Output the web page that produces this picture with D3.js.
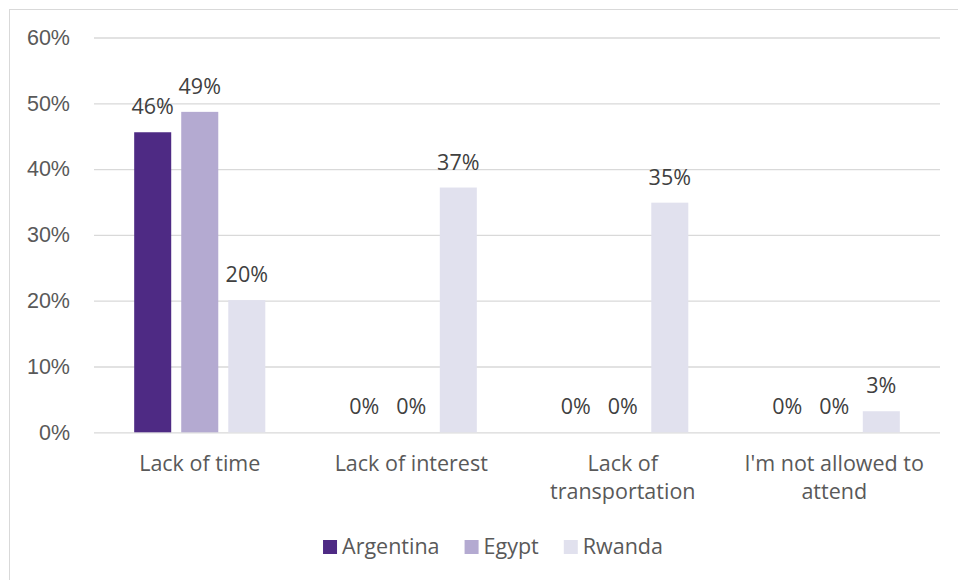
<!DOCTYPE html>
<html>
<head>
<meta charset="utf-8">
<script src="https://cdn.jsdelivr.net/npm/d3@7"></script>
<style>
  html, body { margin: 0; padding: 0; background: #fff; }
  svg { display: block; font-family: "Open Sans", "Liberation Sans", sans-serif; }
</style>
</head>
<body>
<svg id="chart" width="958" height="580"></svg>
<script>
// Reasons for not attending, share of respondents per country
const categories = [
  ["Lack of time"],
  ["Lack of interest"],
  ["Lack of", "transportation"],
  ["I'm not allowed to", "attend"]
];
const seriesNames = ["Argentina", "Egypt", "Rwanda"];
const argentina = [0.456, 0, 0, 0];
const egypt     = [0.487, 0, 0, 0];
const rwanda    = [0.201, 0.372, 0.349, 0.032];
const yTicks = [0, 0.1, 0.2, 0.3, 0.4, 0.5, 0.6];
const colors = ["#4e2a84", "#b4aad1", "#e1e1ee"];

const series = [argentina, egypt, rwanda];

const svg = d3.select("#chart");
const plot = { left: 94, right: 940, top: 37.5, bottom: 432.3 };
const fontSize = 21.5;

// outer frame
svg.append("rect")
  .attr("x", 9.5).attr("y", 9.5)
  .attr("width", 990).attr("height", 600)
  .attr("fill", "none").attr("stroke", "#d9d9d9").attr("stroke-width", 1);

const y = d3.scaleLinear().domain([0, 0.6]).range([plot.bottom, plot.top]);
const x0 = d3.scaleBand()
  .domain(d3.range(categories.length))
  .range([plot.left, plot.right])
  .paddingInner(0.38).paddingOuter(0.19);
const x1 = d3.scaleBand()
  .domain(d3.range(series.length))
  .range([0, x0.bandwidth()])
  .paddingInner(0.213);

const pct = d3.format(".0%");

// gridlines and y tick labels
const yAxis = d3.axisLeft(y).tickValues(yTicks).tickFormat(pct)
  .tickSize(-(plot.right - plot.left)).tickPadding(24);
const gy = svg.append("g")
  .attr("transform", `translate(${plot.left},0)`)
  .call(yAxis);
gy.select(".domain").remove();
gy.selectAll(".tick line").attr("stroke", "#d9d9d9").attr("stroke-width", 1.3);
gy.selectAll(".tick text")
  .attr("fill", "#595959")
  .style("font-size", fontSize + "px")
  .style("font-family", "inherit");

// bars
const groups = svg.append("g").selectAll("g")
  .data(categories.map((c, i) => i))
  .join("g")
  .attr("transform", i => `translate(${x0(i)},0)`);

groups.selectAll("rect")
  .data(i => series.map((s, k) => ({ k, v: s[i] })))
  .join("rect")
  .attr("x", d => x1(d.k))
  .attr("width", x1.bandwidth())
  .attr("y", d => y(d.v))
  .attr("height", d => y(0) - y(d.v))
  .attr("fill", d => colors[d.k]);

// value labels
groups.selectAll("text.val")
  .data(i => series.map((s, k) => ({ k, v: s[i] })))
  .join("text")
  .attr("class", "val")
  .attr("x", d => x1(d.k) + x1.bandwidth() / 2)
  .attr("y", d => y(d.v) - 18)
  .attr("text-anchor", "middle")
  .attr("fill", "#404040")
  .style("font-size", fontSize + "px")
  .text(d => pct(d.v));

// category labels
const cat = svg.append("g").selectAll("text")
  .data(categories)
  .join("text")
  .attr("x", (d, i) => x0(i) + x0.bandwidth() / 2)
  .attr("y", 471)
  .attr("text-anchor", "middle")
  .attr("fill", "#595959")
  .style("font-size", fontSize + "px");
cat.selectAll("tspan")
  .data(d => d)
  .join("tspan")
  .attr("x", function () { return this.parentNode.getAttribute("x"); })
  .attr("dy", (d, j) => j === 0 ? 0 : 28.3)
  .text(d => d);

// legend
const legend = svg.append("g");
let cx = 0;
seriesNames.forEach((name, k) => {
  const g = legend.append("g").attr("transform", `translate(${cx},0)`);
  g.append("rect").attr("x", 0).attr("y", -13.5).attr("width", 14).attr("height", 14)
    .attr("fill", colors[k]);
  const t = g.append("text").attr("x", 19).attr("y", 0)
    .attr("fill", "#595959").style("font-size", fontSize + "px").text(name);
  cx += 19 + t.node().getComputedTextLength() + 25;
});
const legendW = cx - 25;
legend.attr("transform", `translate(${493 - legendW / 2},553.5)`);
</script>
</body>
</html>
